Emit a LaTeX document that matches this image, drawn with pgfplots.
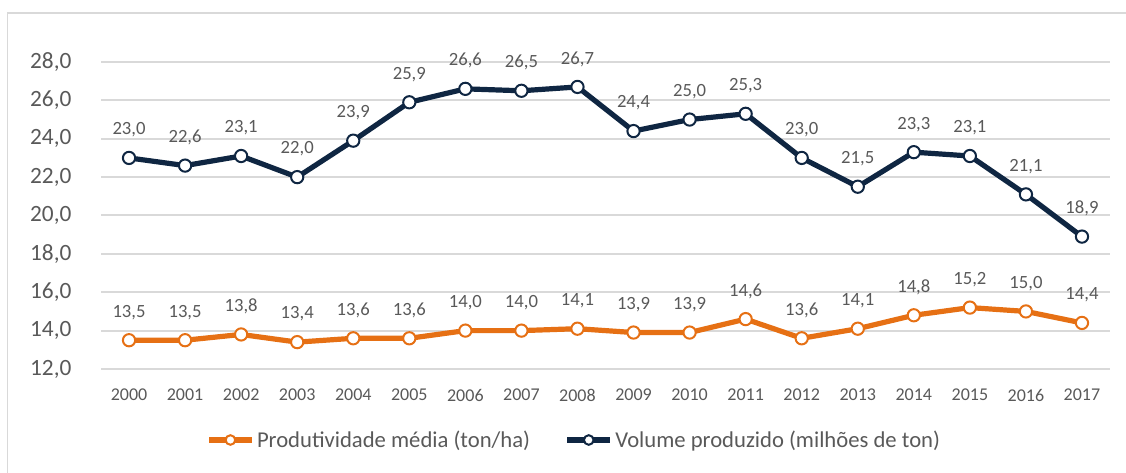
\documentclass[border=0pt]{standalone}
\usepackage{pgfplots}
\pgfplotsset{compat=1.18}
\usepackage{fontspec}
\setmainfont{Carlito}
\definecolor{cOrange}{RGB}{230,112,20}
\definecolor{cNavy}{RGB}{15,38,66}
\definecolor{cText}{RGB}{89,89,89}
\definecolor{cGrid}{RGB}{217,217,217}
\begin{document}
\begin{tikzpicture}
\useasboundingbox (0,0) rectangle (844.5pt,354.75pt);
\draw[cGrid, line width=1.2pt] (5.6pt,0pt) -- (5.6pt,345pt) -- (844.5pt,345pt);
\begin{axis}[
  at={(75.75pt,78pt)}, anchor=south west,
  scale only axis, width=756.75pt, height=230.25pt,
  xmin=-0.5, xmax=17.5, ymin=12, ymax=28,
  ytick={12,14,...,28},
  xtick={0,...,17},
  xticklabels={2000,2001,2002,2003,2004,2005,2006,2007,2008,2009,2010,2011,2012,2013,2014,2015,2016,2017},
  axis line style={draw=none},
  major tick length=0pt,
  ymajorgrids, grid style={cGrid, line width=1.5pt},
  /pgf/number format/.cd, fixed, fixed zerofill, precision=1, use comma, assume math mode=true,
  /pgfplots/.cd,
  yticklabel style={font=\fontsize{17.5}{18}\selectfont, text=cText, anchor=east, inner sep=0pt, xshift=-22pt},
  xticklabel style={font=\fontsize{13.5}{14}\selectfont, text=cText, anchor=center, inner sep=0pt, yshift=-19.5pt},
  nodes near coords,
  nodes near coords style={font=\fontsize{14}{15}\selectfont, text=cText, anchor=center, inner sep=0pt, yshift=21pt},
  every axis plot/.append style={line width=3.9pt, mark=*, mark size=4.6pt, mark options={fill=white, line width=1.5pt}},
  legend style={at={(axis description cs:0.4694,-0.2313)}, anchor=center, draw=none, fill=none,
    font=\fontsize{17}{18}\selectfont, text=cText, legend columns=2,
    /tikz/every even column/.append style={column sep=24pt}},
  legend cell align=left,
  legend image code/.code={\draw[#1, mark size=3.6pt, mark repeat=2, mark phase=2] plot coordinates {(0pt,0pt)(16pt,0pt)(32pt,0pt)};},
  clip=false,
]
\addplot[cOrange] coordinates {
(0,13.5)(1,13.5)(2,13.8)(3,13.4)(4,13.6)(5,13.6)(6,14.0)(7,14.0)(8,14.1)
(9,13.9)(10,13.9)(11,14.6)(12,13.6)(13,14.1)(14,14.8)(15,15.2)(16,15.0)(17,14.4)};
\addlegendentry{Produtividade média (ton/ha)}
\addplot[cNavy] coordinates {
(0,23.0)(1,22.6)(2,23.1)(3,22.0)(4,23.9)(5,25.9)(6,26.6)(7,26.5)(8,26.7)
(9,24.4)(10,25.0)(11,25.3)(12,23.0)(13,21.5)(14,23.3)(15,23.1)(16,21.1)(17,18.9)};
\addlegendentry{Volume produzido (milhões de ton)}
\end{axis}
\end{tikzpicture}
\end{document}
